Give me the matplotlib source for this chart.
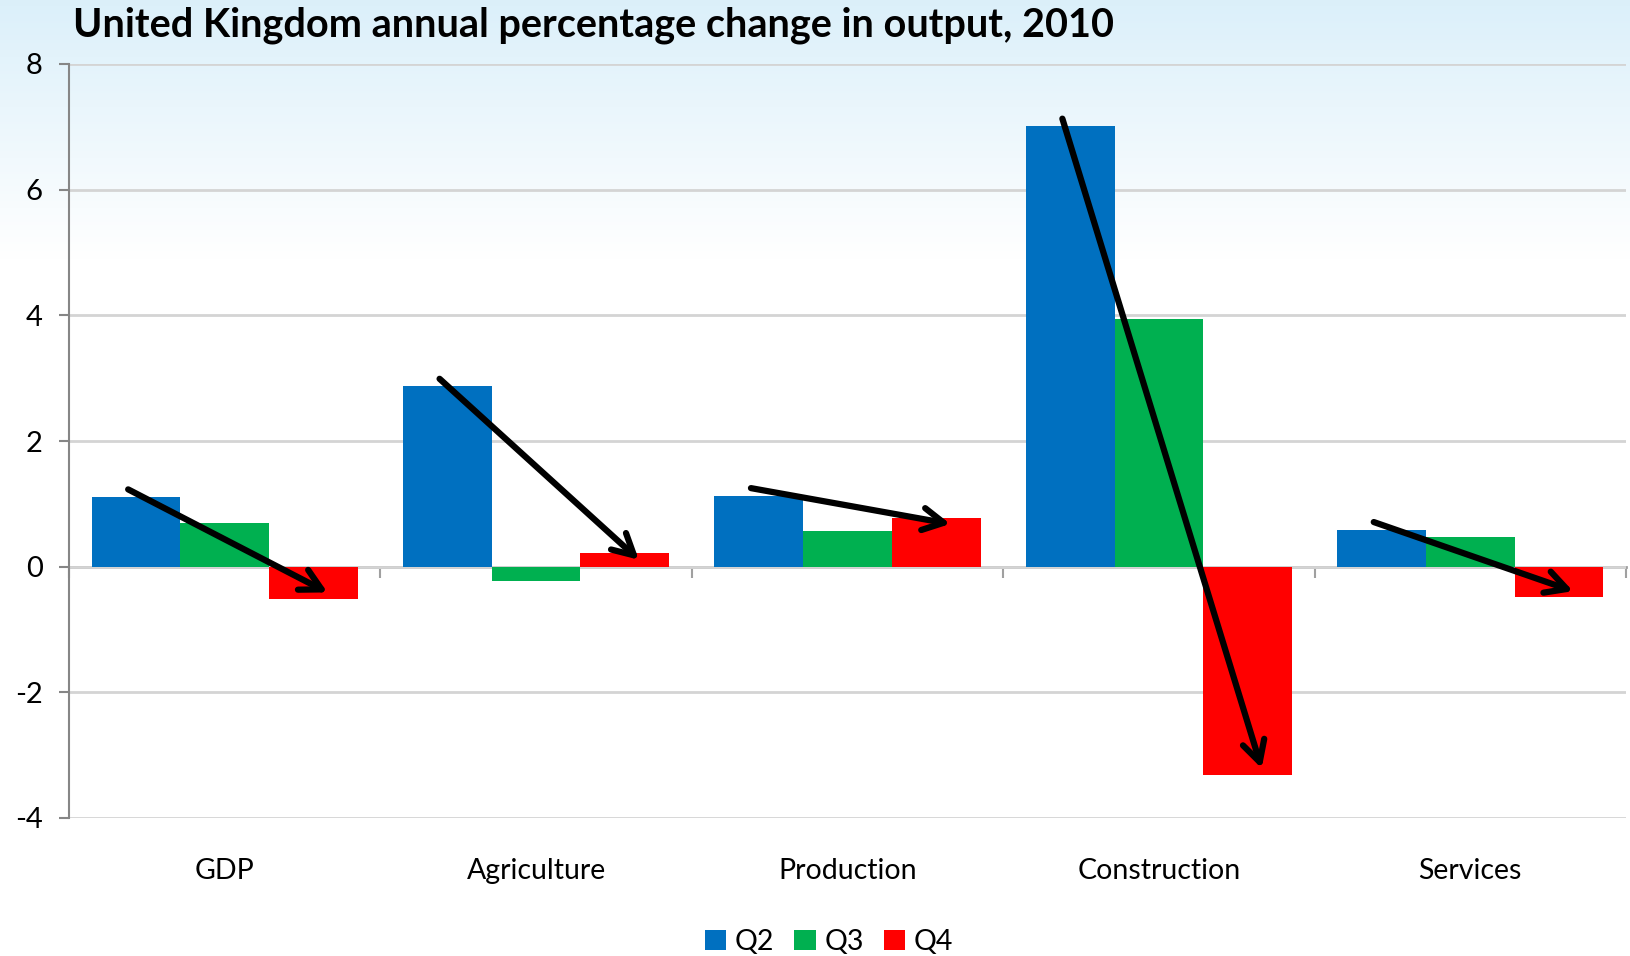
import numpy as np
import matplotlib
matplotlib.use('Agg')
import matplotlib.pyplot as plt

# data
sectors = ['GDP', 'Agriculture', 'Production', 'Construction', 'Services']
q2 = [1.11, 2.87, 1.13, 7.01, 0.59]
q3 = [0.70, -0.23, 0.56, 3.94, 0.48]
q4 = [-0.51, 0.21, 0.78, -3.31, -0.49]
series_names = ['Q2', 'Q3', 'Q4']
colors = ['#0070C0', '#00B050', '#FF0000']
title = 'United Kingdom annual percentage change in output, 2010'

plt.rcParams['font.family'] = ['Lato', 'DejaVu Sans']
plt.rcParams['axes.unicode_minus'] = False

fig = plt.figure(figsize=(16.3, 9.56), dpi=100)

# pale sky gradient behind everything
bg = fig.add_axes([0, 0, 1, 1], zorder=-5)
g = np.linspace(0, 1, 400)
fade = np.clip(1 - g / 0.27, 0, 1)[:, None]
top = np.array([0.86, 0.94, 0.98])
img = 1 - fade[:, :, None] * (1 - top)[None, None, :]
img = np.repeat(img, 2, axis=1)
bg.imshow(img, aspect='auto', extent=[0, 1, 0, 1], origin='upper')
bg.axis('off')

ax = fig.add_axes([69 / 1630, 1 - 818 / 956, (1626 - 69) / 1630, (818 - 64) / 956])
ax.set_facecolor('none')

x = np.arange(len(sectors))
w = 0.285
for k, vals in enumerate([q2, q3, q4]):
    ax.bar(x + (k - 1) * w, vals, w, color=colors[k], label=series_names[k], zorder=3)

ax.set_xlim(-0.5, 4.5)
ax.set_ylim(-4, 8)
ax.set_yticks(np.arange(-4, 9, 2))
ax.yaxis.grid(True, color='#d4d4d4', lw=2, zorder=0)
ax.tick_params(axis='y', direction='out', length=7, width=1.5, color='#868686',
               labelsize=21, pad=12)
ax.set_xticks(x)
ax.set_xticklabels(sectors, fontsize=20.5)
ax.tick_params(axis='x', length=0, pad=29)
for s in ['top', 'right', 'bottom']:
    ax.spines[s].set_visible(False)
ax.spines['left'].set_color('#868686')
ax.spines['left'].set_linewidth(1.5)

# category axis crossing at zero with ticks between categories
sec = ax.secondary_xaxis(4 / 12)
sec.set_xticks(np.arange(-0.5, 5, 1))
sec.set_xticklabels([])
sec.tick_params(direction='out', length=8, width=1.5, color='#a0a0a0')
sec.spines['bottom'].set_color('#a0a0a0')
sec.spines['bottom'].set_linewidth(2)

# arrows from Q2 to Q4
for i in range(len(sectors)):
    ax.annotate('', xy=(i + 0.33, q4[i] - 0.1 * np.sign(q4[i])),
                xytext=(i - 0.31, q2[i] + 0.12),
                arrowprops=dict(arrowstyle='->, head_length=0.75, head_width=0.4',
                                color='black', lw=4.5, mutation_scale=20,
                                shrinkA=0, shrinkB=0), zorder=5)

fig.text(73 / 1630, 1 - 25 / 956, title, fontsize=28.5, fontweight='bold',
         ha='left', va='center')

fig.legend(loc='center', bbox_to_anchor=(829 / 1630, 1 - 942 / 956), ncol=3,
           frameon=False, fontsize=20.5, handlelength=0.75, handleheight=0.75,
           handletextpad=0.3, columnspacing=0.7)

fig.savefig('out.png', dpi=100)
